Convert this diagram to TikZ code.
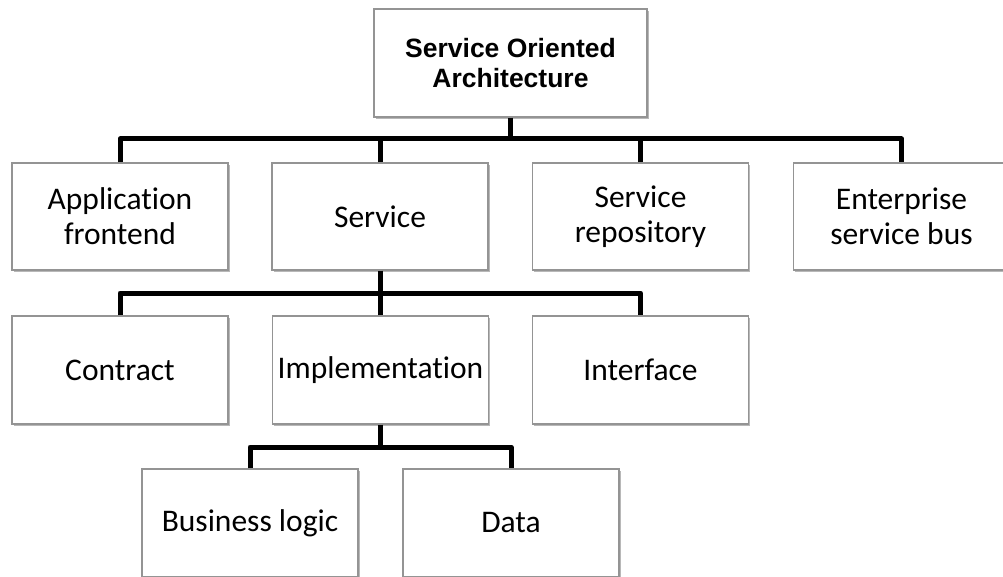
\documentclass[tikz,border=0pt]{standalone}
\usepackage{fontspec}
\setmainfont{Carlito}[Ligatures=CommonOff]
\newfontfamily\headfont{Liberation Sans}
\usetikzlibrary{shadows}

\begin{document}
\begin{tikzpicture}[x=1pt,y=1pt,
  box/.style={draw=black!42, line width=1.1pt, fill=white,
    minimum width=216pt, minimum height=107pt, inner sep=2pt,
    align=center, font=\fontsize{31.5}{35}\selectfont,
    drop shadow={shadow xshift=1.6pt, shadow yshift=-1.8pt, fill=black, opacity=0.28}},
  headbox/.style={box, minimum width=273pt, minimum height=108pt,
    font=\headfont\bfseries\fontsize{26.5}{30}\selectfont},
  link/.style={line width=5pt, line join=round, black}]

\clip (0,0) rectangle (1003,-577);
\fill[white] (0,0) rectangle (1003,-577);

% boxes
\node[headbox] (soa) at (510.5,-63) {Service Oriented\\Architecture};

\node[box] (front) at (120,-216.5)  {Application\\frontend};
\node[box] (svc)   at (380,-216.5)  {Service};
\node[box] (repo)  at (640.5,-216.5) {Service\\repository};
\node[box] (esb)   at (901.5,-216.5) {Enterprise\\service bus};

\node[box, minimum height=108pt] (contract) at (120,-370)   {Contract};
\node[box, minimum height=108pt] (impl)     at (380.5,-370) {Implementation};
\node[box, minimum height=108pt] (iface)    at (640.5,-370) {Interface};

\node[box, minimum height=108pt] (logic) at (250,-523) {Business logic};
\node[box, minimum height=108pt] (data)  at (511,-523) {Data};

% bus junctions
\coordinate (j1) at (510.5,-139);
\coordinate (j2) at (380,-293);
\coordinate (j3) at (380.5,-447);

% connectors
\draw[link] (soa.south) -- (j1);
\draw[link] (front.north) |- (j1) -| (esb.north);
\draw[link] (svc.north) -- (svc.north |- j1);
\draw[link] (repo.north) -- (repo.north |- j1);

\draw[link] (svc.south) -- (j2);
\draw[link] (contract.north) |- (j2) -| (iface.north);
\draw[link] (impl.north) -- (impl.north |- j2);

\draw[link] (impl.south) -- (j3);
\draw[link] (logic.north) |- (j3) -| (data.north);

\end{tikzpicture}
\end{document}
